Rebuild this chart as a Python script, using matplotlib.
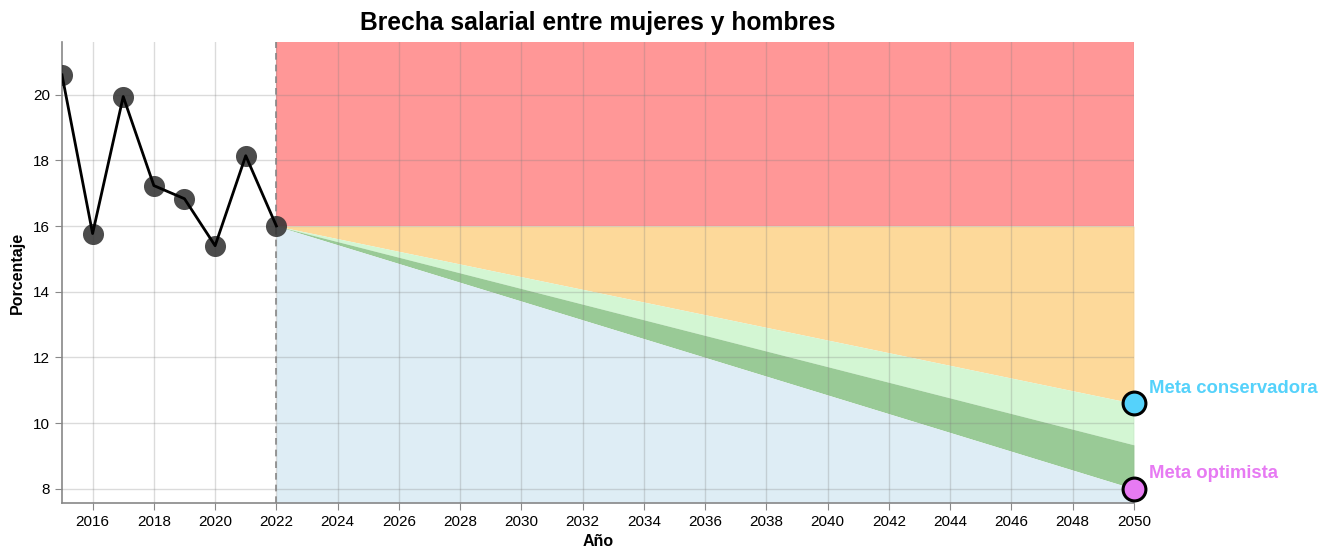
import matplotlib.pyplot as plt

plt.rcParams['font.family'] = ['Liberation Sans', 'DejaVu Sans']

# historical gap (%)
years = [2015, 2016, 2017, 2018, 2019, 2020, 2021, 2022]
gap = [20.6, 15.77, 19.94, 17.23, 16.83, 15.4, 18.14, 16.0]

# projection bands, 2022 -> 2050
proj_years = [2022, 2050]
y_top = 21.6
y_bottom = 7.57
current = [16.0, 16.0]
conservative = [16.0, 10.6]
mid_line = [16.0, 9.34]
optimist = [16.0, 8.0]

goal_labels = ['Meta conservadora', 'Meta optimista']
goal_values = [10.6, 8.0]
goal_colors = ['#55d2fb', '#e77af3']

fig = plt.figure(figsize=(13.3, 5.5), dpi=100)
ax = fig.add_axes([0.0466, 0.0855, 0.8060, 0.8381])

# bands
ax.fill_between(proj_years, current, [y_top, y_top], color='#ff9797', lw=0, zorder=1)
ax.fill_between(proj_years, conservative, current, color='#fdd99a', lw=0, zorder=1)
ax.fill_between(proj_years, mid_line, conservative, color='#d3f6d3', lw=0, zorder=1)
ax.fill_between(proj_years, optimist, mid_line, color='#99ca96', lw=0, zorder=1)
ax.fill_between(proj_years, [y_bottom, y_bottom], optimist, color='#deedf5', lw=0, zorder=1)

ax.axvline(2022, color='#888888', ls=(0, (4, 3)), lw=1.2, zorder=2)

# history
ax.scatter(years, gap, s=230, color='#333333', alpha=0.88, lw=0, zorder=3)
ax.plot(years, gap, color='black', lw=2, zorder=4)

# goals
for lab, val, col in zip(goal_labels, goal_values, goal_colors):
    ax.scatter([2050], [val], s=270, color=col, edgecolor='black', lw=2.2,
               zorder=5, clip_on=False)
    ax.annotate(lab, (2050, val), xytext=(11, 11), textcoords='offset points',
                color=col, fontsize=13.3, fontweight='bold', va='center', ha='left')

ax.set_xlim(2015, 2050)
ax.set_ylim(y_bottom, y_top)
ax.set_xticks(list(range(2016, 2051, 2)))
ax.set_yticks(list(range(8, 21, 2)))
ax.grid(True, color='gray', alpha=0.28, lw=1)
ax.set_axisbelow(False)
for s in ['top', 'right']:
    ax.spines[s].set_visible(False)
for s in ['left', 'bottom']:
    ax.spines[s].set_color('#888888')
    ax.spines[s].set_linewidth(1.2)
ax.tick_params(colors='#888888', labelcolor='black', labelsize=11, length=5)

ax.set_xlabel('Año', fontsize=11.5, fontweight='bold', labelpad=4)
ax.set_ylabel('Porcentaje', fontsize=11.5, fontweight='bold', labelpad=6)
ax.set_title('Brecha salarial entre mujeres y hombres', fontsize=17.7,
             fontweight='bold', pad=9)

fig.savefig('out.png', dpi=100)
